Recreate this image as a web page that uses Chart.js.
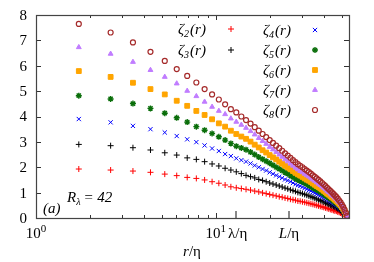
<!DOCTYPE html>
<html>

<head>
    <title>zeta_p(r)</title>
    <style>
        body {
            margin: 0;
            background: #fff;
        }
    </style>
</head>

<body>
    <canvas id="zetaChart" width="374" height="262"></canvas>

    <script src="https://cdn.jsdelivr.net/npm/chart.js"></script>

    <script>
        // r/eta separations (x values)
        const rVals = [1.73, 2.60, 3.46, 4.33, 5.20, 6.06, 6.93, 7.79, 8.66, 9.53, 10.39, 11.26, 12.12, 12.99, 13.86, 14.72,
            15.59, 16.45, 17.32, 18.19, 19.05, 19.92, 20.78, 21.65, 22.52, 23.38, 24.25, 25.11, 25.98, 26.85, 27.71, 28.58,
            29.44, 30.31, 31.18, 32.04, 32.91, 33.77, 34.64, 35.51, 36.37, 37.24, 38.10, 38.97, 39.84, 40.70, 41.57, 42.43, 43.30,
            44.17, 45.03, 45.90, 46.76, 47.63, 48.50, 49.36, 50.23, 51.09, 51.96, 52.83, 53.69]

        const zeta2 = [1.93, 1.89, 1.85, 1.80, 1.73, 1.67, 1.60, 1.56, 1.50, 1.43, 1.37, 1.30, 1.23, 1.19, 1.16, 1.13,
            1.10, 1.06, 1.03, 0.99, 0.96, 0.93, 0.90, 0.87, 0.84, 0.82, 0.79, 0.77, 0.74, 0.72, 0.70, 0.67,
            0.66, 0.64, 0.62, 0.60, 0.58, 0.56, 0.54, 0.52, 0.50, 0.48, 0.46, 0.44, 0.42, 0.40, 0.38, 0.36, 0.34,
            0.32, 0.30, 0.28, 0.27, 0.24, 0.22, 0.20, 0.17, 0.14, 0.11, 0.07, 0.03]
        const zeta3 = [2.90, 2.85, 2.77, 2.68, 2.57, 2.48, 2.37, 2.31, 2.22, 2.13, 2.05, 1.96, 1.89, 1.82, 1.75, 1.68,
            1.63, 1.58, 1.52, 1.48, 1.43, 1.38, 1.34, 1.30, 1.26, 1.22, 1.18, 1.15, 1.11, 1.08, 1.05, 1.01,
            0.99, 0.96, 0.93, 0.90, 0.87, 0.84, 0.81, 0.78, 0.75, 0.72, 0.69, 0.66, 0.63, 0.60, 0.57, 0.54, 0.51,
            0.48, 0.46, 0.43, 0.40, 0.36, 0.33, 0.30, 0.25, 0.21, 0.16, 0.10, 0.04]
        const zeta4 = [3.90, 3.77, 3.63, 3.50, 3.37, 3.23, 3.10, 2.99, 2.86, 2.74, 2.64, 2.52, 2.44, 2.35, 2.28, 2.22,
            2.15, 2.07, 2.00, 1.93, 1.87, 1.80, 1.74, 1.68, 1.63, 1.58, 1.52, 1.48, 1.43, 1.38, 1.33, 1.29,
            1.26, 1.22, 1.18, 1.14, 1.10, 1.07, 1.02, 0.99, 0.95, 0.92, 0.88, 0.84, 0.81, 0.77, 0.73, 0.69, 0.65,
            0.62, 0.58, 0.54, 0.51, 0.46, 0.42, 0.38, 0.32, 0.27, 0.20, 0.13, 0.05]
        const zeta5 = [4.82, 4.69, 4.51, 4.32, 4.13, 3.95, 3.78, 3.60, 3.46, 3.33, 3.20, 3.07, 2.94, 2.83, 2.76, 2.69,
            2.60, 2.50, 2.40, 2.32, 2.24, 2.16, 2.08, 2.00, 1.94, 1.87, 1.80, 1.74, 1.68, 1.61, 1.56, 1.50,
            1.46, 1.42, 1.37, 1.33, 1.29, 1.24, 1.19, 1.15, 1.11, 1.07, 1.02, 0.98, 0.94, 0.89, 0.84, 0.80, 0.76,
            0.72, 0.67, 0.63, 0.59, 0.54, 0.49, 0.44, 0.38, 0.31, 0.23, 0.15, 0.06]
        const zeta6 = [5.79, 5.56, 5.33, 5.08, 4.87, 4.62, 4.42, 4.22, 4.06, 3.89, 3.73, 3.60, 3.44, 3.31, 3.21, 3.12,
            3.01, 2.89, 2.78, 2.67, 2.58, 2.48, 2.39, 2.31, 2.22, 2.14, 2.06, 1.99, 1.92, 1.85, 1.78, 1.72,
            1.67, 1.62, 1.56, 1.51, 1.47, 1.42, 1.36, 1.31, 1.26, 1.22, 1.17, 1.12, 1.07, 1.02, 0.96, 0.92, 0.87,
            0.82, 0.77, 0.72, 0.67, 0.62, 0.56, 0.50, 0.43, 0.36, 0.27, 0.17, 0.06]
        const zeta7 = [6.73, 6.47, 6.15, 5.83, 5.56, 5.30, 5.01, 4.80, 4.58, 4.38, 4.22, 4.09, 3.92, 3.79, 3.67, 3.55,
            3.42, 3.29, 3.15, 3.03, 2.92, 2.80, 2.70, 2.60, 2.50, 2.41, 2.31, 2.23, 2.14, 2.06, 1.98, 1.91,
            1.85, 1.80, 1.74, 1.68, 1.63, 1.58, 1.51, 1.46, 1.40, 1.35, 1.30, 1.24, 1.19, 1.13, 1.07, 1.02, 0.96,
            0.91, 0.86, 0.80, 0.75, 0.68, 0.62, 0.56, 0.48, 0.40, 0.30, 0.19, 0.07]
        const zeta8 = [7.65, 7.31, 6.92, 6.55, 6.19, 5.87, 5.60, 5.34, 5.08, 4.87, 4.67, 4.48, 4.29, 4.16, 4.00, 3.86,
            3.72, 3.58, 3.44, 3.31, 3.19, 3.07, 2.96, 2.85, 2.75, 2.65, 2.55, 2.46, 2.37, 2.28, 2.20, 2.12,
            2.06, 2.00, 1.93, 1.87, 1.81, 1.75, 1.68, 1.62, 1.56, 1.50, 1.44, 1.38, 1.32, 1.26, 1.19, 1.13, 1.07,
            1.01, 0.95, 0.89, 0.83, 0.76, 0.69, 0.62, 0.53, 0.44, 0.33, 0.21, 0.08]

        const orders = [2, 3, 4, 5, 6, 7, 8]
        const seriesVals = [zeta2, zeta3, zeta4, zeta5, zeta6, zeta7, zeta8]

        // axis
        const xMin = 1, xMax = 55
        const yTicks = [0, 1, 2, 3, 4, 5, 6, 7, 8]
        const xMinor = [2, 3, 4, 5, 6, 7, 8, 9, 20, 30, 40, 50]
        const xMajor = [1, 10]
        const lambdaEta = 12.9
        const bigLEta = 25.5
        const rLambda = '42'

        const styles = [
            { pointStyle: 'cross', color: '#ff0000', fill: 'transparent', radius: 3, bw: 1 },
            { pointStyle: 'cross', color: '#000000', fill: 'transparent', radius: 3, bw: 1 },
            { pointStyle: 'crossRot', color: '#0000ff', fill: 'transparent', radius: 3, bw: 1 },
            { pointStyle: 'star', color: '#0a6e0a', fill: 'transparent', radius: 3, bw: 1.4 },
            { pointStyle: 'rect', color: '#ffa500', fill: '#ffa500', radius: 3.4, bw: 1 },
            { pointStyle: 'triangle', color: '#c07cff', fill: '#c07cff', radius: 2.8, bw: 1 },
            { pointStyle: 'circle', color: '#a52a2a', fill: 'transparent', radius: 2.5, bw: 1.2 }
        ]

        let datasets = []
        for (let i = 0; i < orders.length; i++) {
            let pts = []
            for (let j = 0; j < rVals.length; j++) {
                pts.push({ x: rVals[j], y: seriesVals[i][j] })
            }
            datasets.push({
                label: 'zeta' + orders[i],
                data: pts,
                pointStyle: styles[i].pointStyle,
                pointRadius: styles[i].radius,
                borderColor: styles[i].color,
                backgroundColor: styles[i].fill,
                borderWidth: styles[i].bw,
                order: orders.length - i
            })
        }

        const serif = '"Liberation Serif", "DejaVu Serif", serif'

        function drawZeta(ctx, x, y, p) {
            ctx.textAlign = 'left'
            ctx.textBaseline = 'alphabetic'
            ctx.font = 'italic 15px ' + serif
            ctx.fillText('ζ', x, y)
            let w = ctx.measureText('ζ').width
            ctx.font = 'italic 10px ' + serif
            ctx.fillText(String(p), x + w, y + 3)
            w += ctx.measureText(String(p)).width + 1
            ctx.font = 'italic 15px ' + serif
            ctx.fillText('(r)', x + w, y)
        }

        const decorations = {
            id: 'decorations',
            afterDatasetsDraw(chart) {
                const ctx = chart.ctx
                const a = chart.chartArea
                const xs = chart.scales.x
                const ys = chart.scales.y
                ctx.save()

                // ticks
                ctx.strokeStyle = '#333'
                ctx.lineWidth = 1
                ctx.beginPath()
                for (const v of yTicks) {
                    const py = Math.round(ys.getPixelForValue(v)) + 0.5
                    ctx.moveTo(a.left, py); ctx.lineTo(a.left + 5, py)
                    ctx.moveTo(a.right, py); ctx.lineTo(a.right - 5, py)
                }
                for (const v of xMajor) {
                    const px = Math.round(xs.getPixelForValue(v)) + 0.5
                    ctx.moveTo(px, a.bottom); ctx.lineTo(px, a.bottom - 5)
                    ctx.moveTo(px, a.top); ctx.lineTo(px, a.top + 5)
                }
                for (const v of xMinor) {
                    const px = Math.round(xs.getPixelForValue(v)) + 0.5
                    ctx.moveTo(px, a.bottom); ctx.lineTo(px, a.bottom - 3)
                    ctx.moveTo(px, a.top); ctx.lineTo(px, a.top + 3)
                }
                ctx.stroke()

                // lambda/eta and L/eta marks
                ctx.strokeStyle = '#888'
                ctx.lineWidth = 2
                ctx.beginPath()
                for (const v of [lambdaEta, bigLEta]) {
                    const px = Math.round(xs.getPixelForValue(v))
                    ctx.moveTo(px, a.bottom); ctx.lineTo(px, a.bottom - 7)
                }
                ctx.stroke()

                // frame
                ctx.strokeStyle = '#444'
                ctx.lineWidth = 1.2
                ctx.strokeRect(a.left + 0.5, a.top + 0.5, a.right - a.left, a.bottom - a.top)

                // y tick labels
                ctx.fillStyle = '#000'
                ctx.font = '15px ' + serif
                ctx.textAlign = 'right'
                ctx.textBaseline = 'middle'
                for (const v of yTicks) {
                    ctx.fillText(String(v), a.left - 9, ys.getPixelForValue(v) + 1)
                }

                // x tick labels 10^0, 10^1
                ctx.textBaseline = 'alphabetic'
                const exps = ['0', '1']
                for (let i = 0; i < xMajor.length; i++) {
                    const px = xs.getPixelForValue(xMajor[i])
                    ctx.font = '15px ' + serif
                    const w1 = ctx.measureText('10').width
                    ctx.font = '11px ' + serif
                    const w2 = ctx.measureText(exps[i]).width
                    const x0 = px - (w1 + w2) / 2
                    ctx.textAlign = 'left'
                    ctx.font = '15px ' + serif
                    ctx.fillText('10', x0, 238)
                    ctx.font = '11px ' + serif
                    ctx.fillText(exps[i], x0 + w1, 232)
                }
                ctx.font = '15px ' + serif
                ctx.textAlign = 'center'
                ctx.fillText('λ/η', xs.getPixelForValue(lambdaEta) + 2, 238)
                let px = xs.getPixelForValue(bigLEta)
                ctx.textAlign = 'left'
                ctx.font = 'italic 15px ' + serif
                let wl = ctx.measureText('L').width
                ctx.font = '15px ' + serif
                let wr = ctx.measureText('/η').width
                ctx.font = 'italic 15px ' + serif
                ctx.fillText('L', px - (wl + wr) / 2, 238)
                ctx.font = '15px ' + serif
                ctx.fillText('/η', px - (wl + wr) / 2 + wl, 238)

                // x title r/eta
                const cx = 192
                ctx.font = 'italic 15px ' + serif
                wl = ctx.measureText('r').width
                ctx.font = '15px ' + serif
                wr = ctx.measureText('/η').width
                ctx.font = 'italic 15px ' + serif
                ctx.fillText('r', cx - (wl + wr) / 2, 256)
                ctx.font = '15px ' + serif
                ctx.fillText('/η', cx - (wl + wr) / 2 + wl, 256)

                // annotations
                ctx.font = 'italic 15px ' + serif
                ctx.fillText('R', 67, 202)
                let w = ctx.measureText('R').width
                ctx.font = 'italic 10px ' + serif
                ctx.fillText('λ', 67 + w, 205)
                w += ctx.measureText('λ').width + 3
                ctx.font = 'italic 15px ' + serif
                ctx.fillText('= ' + rLambda, 67 + w, 202)
                ctx.fillText('(a)', 43, 213)

                // legend
                const legendPos = [
                    [178, 34, 231, 29], [178, 55, 231, 50],
                    [263, 35, 315, 30], [263, 55, 315, 50], [263, 75, 315, 70], [263, 95, 315, 90], [263, 115, 315, 110]
                ]
                for (let i = 0; i < orders.length; i++) {
                    const lp = legendPos[i]
                    ctx.fillStyle = '#000'
                    drawZeta(ctx, lp[0], lp[1], orders[i])
                    ctx.strokeStyle = styles[i].color
                    ctx.fillStyle = styles[i].fill
                    ctx.lineWidth = styles[i].bw
                    Chart.helpers.drawPoint(ctx, {
                        pointStyle: styles[i].pointStyle,
                        radius: styles[i].radius,
                        rotation: 0,
                        borderWidth: styles[i].bw
                    }, lp[2], lp[3])
                }

                ctx.restore()
            }
        }

        const ctx = document.getElementById('zetaChart')
        new Chart(ctx, {
            type: 'scatter',
            data: { datasets: datasets },
            options: {
                responsive: false,
                animation: false,
                layout: { padding: { left: 36, right: 25, top: 15, bottom: 44 } },
                plugins: {
                    legend: { display: false },
                    tooltip: { enabled: false }
                },
                scales: {
                    x: {
                        type: 'logarithmic',
                        min: xMin,
                        max: xMax,
                        grid: { display: false },
                        border: { display: false },
                        ticks: { display: false },
                        afterFit(s) { s.height = 0 }
                    },
                    y: {
                        min: 0,
                        max: 8,
                        grid: { display: false },
                        border: { display: false },
                        ticks: { display: false },
                        afterFit(s) { s.width = 0 }
                    }
                }
            },
            plugins: [decorations]
        });
    </script>
</body>

</html>
